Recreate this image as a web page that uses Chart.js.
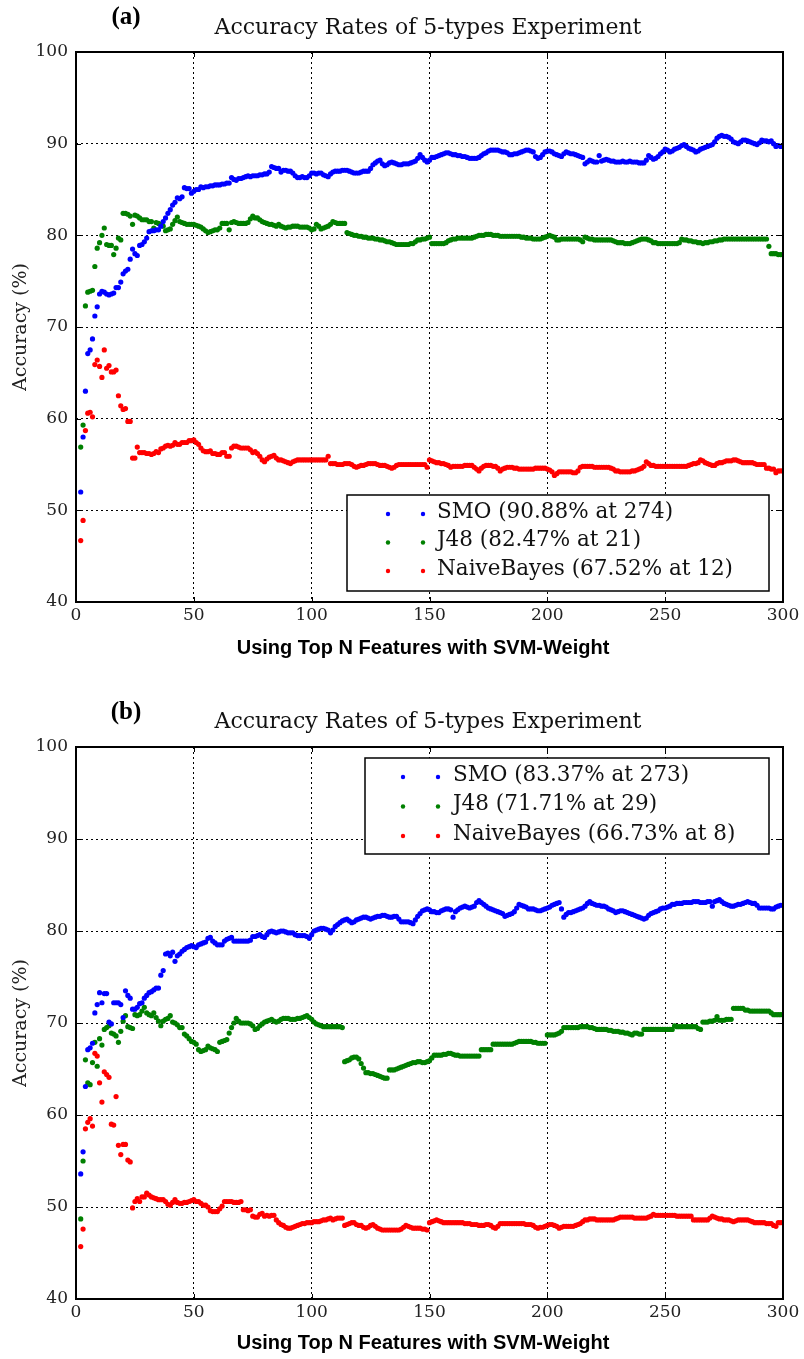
<!DOCTYPE html>
<html>
<head>
<meta charset="utf-8">
<script src="https://cdn.jsdelivr.net/npm/chart.js@4.4.0/dist/chart.umd.min.js"></script>
<style>
  html, body { margin: 0; padding: 0; background: #fff; }
  .panel { position: absolute; left: 0; width: 804px; }
  #panelA { top: 0; height: 680px; }
  #panelB { top: 694px; height: 665px; }
</style>
</head>
<body>
<div class="panel" id="panelA"><canvas id="chartA"></canvas></div>
<div class="panel" id="panelB"><canvas id="chartB"></canvas></div>
<script>
// first N on the x axis, values follow one per N up to 300
const firstN = 2;
const xTicks = [0, 50, 100, 150, 200, 250, 300];
const yTicks = [40, 50, 60, 70, 80, 90, 100];

// (a) accuracy per N
const smoA = [52.0,58.0,63.0,67.1,67.5,68.7,71.2,72.2,73.6,
73.9,73.8,73.6,73.5,73.6,73.7,74.3,74.3,74.9,75.8,
76.1,76.3,77.4,78.5,78.0,77.8,78.9,79.0,79.3,79.7,
80.4,80.5,80.5,80.6,80.6,81.0,81.5,81.9,82.4,82.8,
83.3,83.6,84.1,84.0,84.2,85.2,85.1,85.1,84.6,84.8,
85.0,85.0,85.3,85.2,85.3,85.3,85.4,85.4,85.5,85.5,
85.5,85.6,85.6,85.7,85.7,86.3,86.1,86.0,86.2,86.2,
86.3,86.4,86.5,86.4,86.5,86.5,86.5,86.6,86.6,86.7,
86.7,86.9,87.5,87.4,87.3,87.3,86.9,87.1,87.1,87.0,
87.0,86.8,86.5,86.3,86.3,86.4,86.3,86.3,86.5,86.8,
86.8,86.7,86.8,86.8,86.6,86.5,86.4,86.7,86.9,87.0,
87.0,87.0,87.1,87.1,87.1,87.0,86.9,86.8,86.8,86.8,
86.9,87.0,87.0,87.0,87.3,87.7,87.9,88.1,88.2,87.8,
87.6,87.7,87.9,88.0,87.9,87.8,87.7,87.7,87.8,87.8,
87.8,87.9,88.0,88.1,88.4,88.8,88.5,88.2,88.0,88.2,
88.5,88.5,88.6,88.7,88.8,88.9,89.0,89.0,88.9,88.8,
88.8,88.7,88.7,88.6,88.6,88.5,88.4,88.4,88.4,88.4,
88.5,88.7,88.9,89.0,89.2,89.3,89.3,89.3,89.3,89.2,
89.1,89.1,89.0,88.8,88.8,88.9,88.9,89.0,89.1,89.2,
89.3,89.3,89.2,89.1,88.6,88.4,88.5,88.8,89.1,89.2,
89.2,89.1,88.9,88.8,88.7,88.6,88.9,89.1,89.0,88.9,
88.9,88.8,88.7,88.6,88.5,87.8,88.0,88.2,88.1,88.0,
88.0,88.7,88.1,88.2,88.3,88.2,88.1,88.1,88.0,88.0,
88.0,88.1,88.0,88.0,88.1,88.0,88.0,88.0,87.9,87.9,
87.9,88.2,88.7,88.5,88.3,88.4,88.6,88.9,89.1,89.4,
89.3,89.1,89.2,89.4,89.5,89.6,89.8,89.9,89.7,89.5,
89.4,89.3,89.1,89.2,89.4,89.5,89.6,89.7,89.8,89.9,
90.2,90.6,90.8,90.9,90.8,90.8,90.7,90.5,90.2,90.1,
90.0,90.2,90.4,90.4,90.3,90.2,90.1,90.0,89.9,90.1,
90.4,90.3,90.3,90.2,90.3,90.0,89.7,89.8,89.7,89.7];

const j48A = [56.9,59.3,72.3,73.8,73.9,74.0,76.6,78.6,79.2,
80.0,80.8,79.0,78.9,78.9,77.9,78.6,79.7,79.5,82.4,
82.4,82.3,82.1,81.2,82.2,82.1,81.9,81.7,81.7,81.7,
81.5,81.5,80.8,81.4,81.3,81.2,81.0,80.5,80.6,80.7,
81.2,81.6,82.0,81.5,81.4,81.3,81.2,81.2,81.2,81.2,
81.1,81.0,80.9,80.7,80.5,80.3,80.4,80.5,80.6,80.6,
80.8,81.3,81.3,81.3,80.6,81.4,81.5,81.4,81.3,81.3,
81.3,81.3,81.4,81.8,82.1,81.9,81.9,81.7,81.5,81.4,
81.3,81.2,81.2,81.1,81.0,81.2,81.0,80.9,80.8,80.9,
80.9,81.0,81.0,81.0,80.9,80.9,80.9,80.9,80.8,80.6,
80.7,81.2,81.0,80.7,80.8,80.9,81.0,81.2,81.5,81.4,
81.3,81.3,81.3,81.3,80.3,80.2,80.1,80.0,80.0,79.9,
79.9,79.8,79.8,79.7,79.7,79.7,79.6,79.6,79.5,79.5,
79.4,79.3,79.3,79.2,79.1,79.0,79.0,79.0,79.0,79.0,
79.0,79.1,79.1,79.3,79.5,79.5,79.6,79.6,79.7,79.8,
79.1,79.1,79.1,79.1,79.1,79.1,79.2,79.4,79.5,79.6,
79.6,79.7,79.7,79.7,79.7,79.7,79.7,79.7,79.8,79.9,
80.0,80.0,80.0,80.1,80.1,80.1,80.0,80.0,80.0,79.9,
79.9,79.9,79.9,79.9,79.9,79.9,79.9,79.9,79.8,79.8,
79.7,79.7,79.7,79.6,79.6,79.6,79.6,79.7,79.8,79.9,
80.0,79.9,79.8,79.5,79.5,79.6,79.6,79.6,79.6,79.6,
79.6,79.6,79.6,79.5,79.3,79.8,79.7,79.6,79.6,79.5,
79.5,79.5,79.5,79.5,79.5,79.5,79.5,79.4,79.3,79.2,
79.2,79.2,79.1,79.1,79.1,79.2,79.3,79.4,79.5,79.6,
79.6,79.6,79.5,79.4,79.2,79.2,79.1,79.1,79.1,79.1,
79.1,79.1,79.1,79.1,79.1,79.2,79.6,79.5,79.5,79.4,
79.4,79.3,79.3,79.2,79.2,79.1,79.2,79.2,79.3,79.3,
79.4,79.4,79.5,79.5,79.6,79.6,79.6,79.6,79.6,79.6,
79.6,79.6,79.6,79.6,79.6,79.6,79.6,79.6,79.6,79.6,
79.6,79.6,79.6,78.8,78.0,78.0,78.0,77.9,77.9,77.9];

const nbA = [46.7,48.9,58.7,60.6,60.7,60.2,65.9,66.4,65.7,
64.5,67.5,65.5,65.8,65.1,65.1,65.3,62.5,61.4,61.0,
61.1,59.7,59.7,55.7,55.7,56.9,56.3,56.3,56.3,56.2,
56.2,56.1,56.2,56.4,56.3,56.7,56.8,57.0,57.1,57.0,
57.1,57.4,57.2,57.2,57.4,57.4,57.4,57.6,57.6,57.7,
57.4,57.2,56.8,56.5,56.4,56.4,56.5,56.2,56.2,56.1,
56.1,56.3,56.3,55.9,55.9,56.8,57.0,57.0,56.9,56.8,
56.8,56.8,56.8,56.6,56.3,56.4,56.2,55.9,55.5,55.3,
55.6,55.8,55.9,56.0,55.7,55.5,55.5,55.4,55.3,55.2,
55.1,55.3,55.4,55.5,55.5,55.5,55.5,55.5,55.5,55.5,
55.5,55.5,55.5,55.5,55.5,55.5,55.9,55.1,55.1,55.1,
55.0,55.0,55.0,55.1,55.1,55.1,55.0,54.8,54.7,54.8,
54.9,54.9,55.0,55.1,55.1,55.1,55.1,55.0,54.9,54.9,
54.9,54.8,54.7,54.6,54.7,54.9,55.0,55.0,55.0,55.0,
55.0,55.0,55.0,55.0,55.0,55.0,55.0,55.0,54.7,55.5,
55.4,55.3,55.2,55.2,55.1,55.1,55.0,54.9,54.7,54.8,
54.8,54.8,54.8,54.8,54.9,54.9,54.9,54.9,54.7,54.5,
54.3,54.6,54.8,54.9,54.9,54.9,54.8,54.8,54.6,54.3,
54.5,54.6,54.7,54.7,54.7,54.6,54.6,54.5,54.5,54.5,
54.5,54.5,54.5,54.5,54.6,54.6,54.6,54.6,54.6,54.5,
54.4,54.2,53.8,54.0,54.2,54.2,54.2,54.2,54.2,54.2,
54.1,54.1,54.3,54.7,54.8,54.8,54.8,54.8,54.8,54.7,
54.7,54.7,54.7,54.7,54.7,54.7,54.6,54.5,54.3,54.3,
54.2,54.2,54.2,54.2,54.2,54.3,54.3,54.4,54.5,54.6,
54.8,55.3,55.1,54.9,54.9,54.8,54.8,54.8,54.8,54.8,
54.8,54.8,54.8,54.8,54.8,54.8,54.8,54.8,54.8,54.9,
55.0,55.1,55.1,55.2,55.5,55.4,55.2,55.1,55.0,54.9,
54.9,55.1,55.2,55.2,55.3,55.4,55.4,55.4,55.5,55.5,
55.4,55.3,55.2,55.2,55.2,55.2,55.2,55.1,55.0,55.0,
55.0,55.0,54.6,54.6,54.5,54.5,54.1,54.3,54.3,54.3];

// (b) accuracy per N
const smoB = [53.6,56.0,63.1,67.1,67.3,67.8,71.1,72.0,73.3,
72.2,73.2,73.2,70.1,69.9,72.2,72.2,72.2,72.0,70.6,
73.5,73.0,72.7,71.5,71.5,71.7,72.1,72.2,72.7,73.0,
73.3,73.4,73.6,73.8,73.8,75.2,75.7,77.5,77.6,77.3,
77.7,76.7,77.3,77.5,77.8,78.0,78.2,78.3,78.4,78.3,
78.2,78.5,78.6,78.7,78.8,79.2,79.3,78.9,78.7,78.5,
78.5,78.5,78.9,79.1,79.2,79.3,78.9,78.9,78.9,78.9,
78.9,78.9,78.9,79.0,79.4,79.4,79.5,79.6,79.4,79.3,
79.6,79.9,80.0,79.9,79.8,79.9,80.0,80.0,79.9,79.8,
79.8,79.8,79.6,79.5,79.5,79.5,79.5,79.4,79.2,79.6,
80.0,80.1,80.2,80.3,80.3,80.2,80.1,79.8,80.1,80.5,
80.7,80.9,81.1,81.2,81.3,81.1,80.9,81.0,81.2,81.3,
81.4,81.5,81.5,81.4,81.3,81.4,81.5,81.6,81.6,81.7,
81.7,81.6,81.5,81.5,81.6,81.6,81.3,81.0,81.0,81.0,
81.0,80.9,80.8,81.2,81.6,81.9,82.2,82.3,82.4,82.3,
82.1,82.1,82.0,82.0,82.2,82.3,82.4,82.4,82.3,81.5,
82.1,82.3,82.5,82.6,82.7,82.6,82.5,82.6,82.7,83.1,
83.3,83.1,82.9,82.7,82.5,82.4,82.3,82.2,82.1,82.0,
81.9,81.6,81.7,81.8,81.9,82.1,82.5,82.9,82.8,82.7,
82.6,82.4,82.4,82.4,82.3,82.2,82.2,82.3,82.4,82.5,
82.6,82.8,82.9,83.0,83.1,82.4,81.5,81.8,82.0,82.0,
82.1,82.2,82.3,82.4,82.5,82.7,83.0,83.2,83.0,82.9,
82.8,82.8,82.7,82.7,82.6,82.4,82.3,82.2,82.0,82.1,
82.2,82.2,82.1,82.0,81.9,81.8,81.7,81.6,81.5,81.4,
81.3,81.4,81.7,81.9,82.0,82.1,82.2,82.4,82.5,82.5,
82.6,82.7,82.9,82.9,83.0,83.0,83.0,83.1,83.1,83.1,
83.1,83.2,83.2,83.2,83.1,83.1,83.1,83.2,83.2,82.7,
83.2,83.3,83.4,83.2,83.0,82.9,82.8,82.7,82.7,82.8,
82.9,82.9,83.0,83.1,83.2,83.1,83.0,83.0,82.8,82.5,
82.5,82.5,82.5,82.5,82.4,82.4,82.6,82.7,82.8,82.8];

const j48B = [48.7,55.0,66.0,63.5,63.3,65.7,67.9,65.3,68.3,
67.6,69.3,69.5,69.7,68.9,68.8,68.6,67.9,69.1,70.2,
70.8,69.6,69.5,69.4,70.9,70.8,70.9,71.3,71.7,71.1,
70.9,70.8,71.1,70.6,70.2,69.7,70.2,70.4,70.5,70.8,
70.1,70.0,69.8,69.5,69.5,68.8,68.6,68.3,68.0,67.9,
67.7,67.1,66.9,67.0,67.1,67.5,67.3,67.2,67.1,66.9,
67.9,68.0,68.1,68.2,68.9,69.5,70.0,70.5,70.2,70.0,
70.0,70.0,70.0,69.9,69.7,69.3,69.4,69.7,69.9,70.1,
70.2,70.3,70.4,70.2,70.1,70.2,70.4,70.5,70.5,70.5,
70.4,70.4,70.4,70.5,70.5,70.6,70.7,70.8,70.6,70.4,
70.1,69.9,69.8,69.7,69.6,69.6,69.6,69.6,69.6,69.6,
69.6,69.6,69.5,65.8,65.9,66.0,66.2,66.3,66.3,66.1,
65.6,65.1,64.6,64.6,64.5,64.5,64.4,64.3,64.2,64.1,
64.0,64.0,64.9,64.9,64.9,65.0,65.1,65.2,65.3,65.4,
65.5,65.6,65.7,65.7,65.8,65.8,65.7,65.7,65.8,65.9,
66.2,66.5,66.5,66.5,66.5,66.6,66.6,66.7,66.7,66.6,
66.5,66.5,66.4,66.4,66.4,66.4,66.4,66.4,66.4,66.4,
66.4,67.1,67.1,67.1,67.1,67.1,67.7,67.7,67.7,67.7,
67.7,67.7,67.7,67.7,67.7,67.8,67.9,68.0,68.0,68.0,
68.0,68.0,68.0,67.9,67.9,67.8,67.8,67.8,67.8,68.7,
68.7,68.7,68.7,68.8,68.9,69.1,69.5,69.5,69.5,69.5,
69.5,69.5,69.5,69.6,69.6,69.6,69.6,69.5,69.5,69.4,
69.3,69.3,69.3,69.3,69.3,69.2,69.2,69.1,69.1,69.1,
69.0,69.0,68.9,68.9,68.8,68.7,68.9,68.9,68.8,68.8,
69.3,69.3,69.3,69.3,69.3,69.3,69.3,69.3,69.3,69.3,
69.3,69.3,69.3,69.7,69.6,69.6,69.6,69.6,69.6,69.6,
69.6,69.6,69.6,69.4,69.3,70.1,70.1,70.1,70.2,70.2,
70.3,70.7,70.3,70.3,70.3,70.4,70.4,70.4,71.6,71.6,
71.6,71.6,71.6,71.4,71.4,71.3,71.3,71.3,71.3,71.3,
71.3,71.3,71.3,71.3,71.1,70.9,70.9,70.9,70.9,70.9];

const nbB = [45.7,47.6,58.5,59.2,59.6,58.8,66.7,66.4,63.5,
61.4,64.7,64.4,64.1,59.0,58.9,62.0,56.7,55.7,56.8,
56.8,55.1,54.9,49.9,50.6,50.9,50.6,51.1,51.1,51.5,
51.3,51.1,51.0,50.9,50.8,50.8,50.8,50.6,50.3,50.2,
50.5,50.8,50.5,50.4,50.4,50.5,50.5,50.6,50.7,50.8,
50.6,50.6,50.4,50.2,50.2,50.0,49.6,49.5,49.5,49.5,
49.8,50.1,50.6,50.6,50.6,50.6,50.5,50.5,50.5,50.6,
49.7,49.7,49.6,49.7,49.0,48.9,48.9,49.2,49.3,49.0,
49.1,49.0,49.1,49.1,48.6,48.3,48.1,48.0,47.8,47.7,
47.7,47.8,47.9,48.0,48.1,48.2,48.2,48.3,48.3,48.3,
48.4,48.4,48.4,48.5,48.6,48.6,48.7,48.8,48.6,48.7,
48.8,48.8,48.8,48.0,48.1,48.2,48.3,48.3,48.1,48.0,
48.0,47.8,47.7,47.8,48.0,48.1,47.9,47.7,47.6,47.5,
47.5,47.5,47.5,47.5,47.5,47.5,47.5,47.6,47.8,48.0,
47.9,47.8,47.7,47.7,47.7,47.7,47.6,47.6,47.5,48.3,
48.4,48.5,48.6,48.5,48.4,48.3,48.3,48.3,48.3,48.3,
48.3,48.3,48.3,48.3,48.2,48.2,48.2,48.1,48.1,48.1,
48.0,48.0,48.0,48.1,48.1,48.0,47.8,47.7,47.9,48.2,
48.2,48.2,48.2,48.2,48.2,48.2,48.2,48.2,48.2,48.2,
48.1,48.1,48.1,48.0,47.8,47.7,47.8,47.8,47.9,48.0,
48.1,48.1,48.0,47.9,47.7,47.8,47.9,47.9,47.9,47.9,
47.9,48.0,48.1,48.2,48.4,48.6,48.6,48.7,48.7,48.7,
48.6,48.6,48.6,48.6,48.6,48.6,48.6,48.6,48.7,48.8,
48.9,48.9,48.9,48.9,48.9,48.9,48.8,48.8,48.8,48.8,
48.8,48.8,48.9,49.0,49.2,49.1,49.1,49.1,49.1,49.1,
49.1,49.1,49.1,49.1,49.0,49.0,49.0,49.0,49.0,49.0,
49.0,48.6,48.6,48.6,48.6,48.6,48.6,48.6,48.8,49.0,
48.9,48.8,48.7,48.7,48.6,48.6,48.6,48.5,48.4,48.5,
48.6,48.6,48.6,48.6,48.6,48.5,48.4,48.3,48.3,48.3,
48.3,48.3,48.2,48.2,48.2,48.0,47.9,48.3,48.3,48.3];

const seriesNames = ['SMO', 'J48', 'NaiveBayes'];
const legendA = ['SMO (90.88% at 274)', 'J48 (82.47% at 21)', 'NaiveBayes (67.52% at 12)'];
const legendB = ['SMO (83.37% at 273)', 'J48 (71.71% at 29)', 'NaiveBayes (66.73% at 8)'];
const seriesColors = ['#0000ff', '#008000', '#ff0000'];

const chartTitle = 'Accuracy Rates of 5-types Experiment';
const xTitle = 'Using Top N Features with SVM-Weight';
const yTitle = 'Accuracy (%)';

function toPoints(values) {
  return values.map((v, i) => ({ x: firstN + i, y: v }));
}

// frame, inward ticks, titles and the boxed legend
const decorations = {
  id: 'decorations',
  afterDatasetsDraw(chart, args, o) {
    const { ctx, chartArea: a, scales } = chart;
    ctx.save();
    ctx.strokeStyle = '#000';
    ctx.lineWidth = 1;
    ctx.beginPath();
    xTicks.forEach(t => {
      const px = Math.round(scales.x.getPixelForValue(t)) + 0.5;
      ctx.moveTo(px, a.bottom); ctx.lineTo(px, a.bottom - 5);
      ctx.moveTo(px, a.top); ctx.lineTo(px, a.top + 5);
    });
    yTicks.forEach(t => {
      const py = Math.round(scales.y.getPixelForValue(t)) + 0.5;
      ctx.moveTo(a.left, py); ctx.lineTo(a.left + 5, py);
      ctx.moveTo(a.right, py); ctx.lineTo(a.right - 5, py);
    });
    ctx.stroke();
    ctx.lineWidth = 2;
    ctx.strokeRect(a.left, a.top, a.right - a.left, a.bottom - a.top);
    ctx.restore();
  },
  afterDraw(chart, args, o) {
    const { ctx, chartArea: a } = chart;
    ctx.save();
    ctx.fillStyle = '#000';
    ctx.textAlign = 'center';
    ctx.textBaseline = 'middle';
    ctx.font = 'bold 25px "Liberation Serif"';
    ctx.fillText(o.tag, o.tagX, o.tagY);
    ctx.font = '22px "DejaVu Serif"';
    ctx.fillStyle = '#111';
    ctx.fillText(chartTitle, 428, o.titleY);
    ctx.fillStyle = '#000';
    ctx.font = 'bold 20px "Liberation Sans"';
    ctx.fillText(xTitle, o.xTitleX, o.xTitleY);
    ctx.save();
    ctx.translate(o.yTitleX, (a.top + a.bottom) / 2);
    ctx.rotate(-Math.PI / 2);
    ctx.font = '19px "DejaVu Serif"';
    ctx.fillStyle = '#222';
    ctx.fillText(yTitle, 0, 0);
    ctx.restore();

    // legend
    const L = o.legend;
    ctx.fillStyle = '#fff';
    ctx.fillRect(L.x, L.y, L.w, L.h);
    ctx.strokeStyle = '#000';
    ctx.lineWidth = 1.5;
    ctx.strokeRect(L.x, L.y, L.w, L.h);
    ctx.textAlign = 'left';
    ctx.font = '21.5px "DejaVu Serif"';
    chart.data.datasets.forEach((ds, i) => {
      const cy = L.y + L.row0 + i * L.rowGap;
      ctx.fillStyle = ds.backgroundColor;
      L.dots.forEach(dx => {
        ctx.beginPath();
        ctx.arc(dx, cy + 2, 2.2, 0, Math.PI * 2);
        ctx.fill();
      });
      ctx.fillStyle = '#111';
      ctx.fillText(L.labels[i], L.textX, cy);
    });
    ctx.restore();
  }
};

function makeChart(id, series, deco, plotTop, plotBottomGap) {
  const datasets = series.map((vals, i) => ({
    label: seriesNames[i],
    data: toPoints(vals),
    backgroundColor: seriesColors[i],
    pointRadius: 2.6,
    pointHoverRadius: 2.6,
    pointBorderWidth: 0
  }));
  return new Chart(document.getElementById(id), {
    type: 'scatter',
    data: { datasets },
    plugins: [decorations],
    options: {
      responsive: true,
      maintainAspectRatio: false,
      animation: false,
      layout: { padding: { top: plotTop, right: 21, left: 0, bottom: 0 } },
      plugins: {
        legend: { display: false },
        tooltip: { enabled: false },
        decorations: deco
      },
      scales: {
        x: {
          type: 'linear',
          min: 0,
          max: 300,
          afterBuildTicks: s => { s.ticks = xTicks.map(v => ({ value: v })); },
          afterFit: s => { s.height = plotBottomGap; },
          grid: { color: '#000', lineWidth: 1, drawTicks: false },
          border: { display: false, dash: [2, 3] },
          ticks: { padding: 3, color: '#222', font: { family: 'DejaVu Serif', size: 17 } }
        },
        y: {
          min: 40,
          max: 100,
          afterBuildTicks: s => { s.ticks = yTicks.map(v => ({ value: v })); },
          afterFit: s => { s.width = 76; },
          grid: { color: '#000', lineWidth: 1, drawTicks: false },
          border: { display: false, dash: [2, 3] },
          ticks: { padding: 8, color: '#222', font: { family: 'DejaVu Serif', size: 17 } }
        }
      }
    }
  });
}

makeChart('chartA', [smoA, j48A, nbA], {
  tag: '(a)', tagX: 126, tagY: 18,
  titleY: 28, xTitleX: 423, xTitleY: 648, yTitleX: 21,
  legend: { x: 347, y: 495, w: 422, h: 96, row0: 17, rowGap: 28.5,
            dots: [388, 423], textX: 437, labels: legendA }
}, 52, 78);

makeChart('chartB', [smoB, j48B, nbB], {
  tag: '(b)', tagX: 126, tagY: 19,
  titleY: 28, xTitleX: 423, xTitleY: 649, yTitleX: 21,
  legend: { x: 365, y: 64, w: 404, h: 96, row0: 17, rowGap: 29.5,
            dots: [403, 438], textX: 453, labels: legendB }
}, 53, 60);
</script>
</body>
</html>
